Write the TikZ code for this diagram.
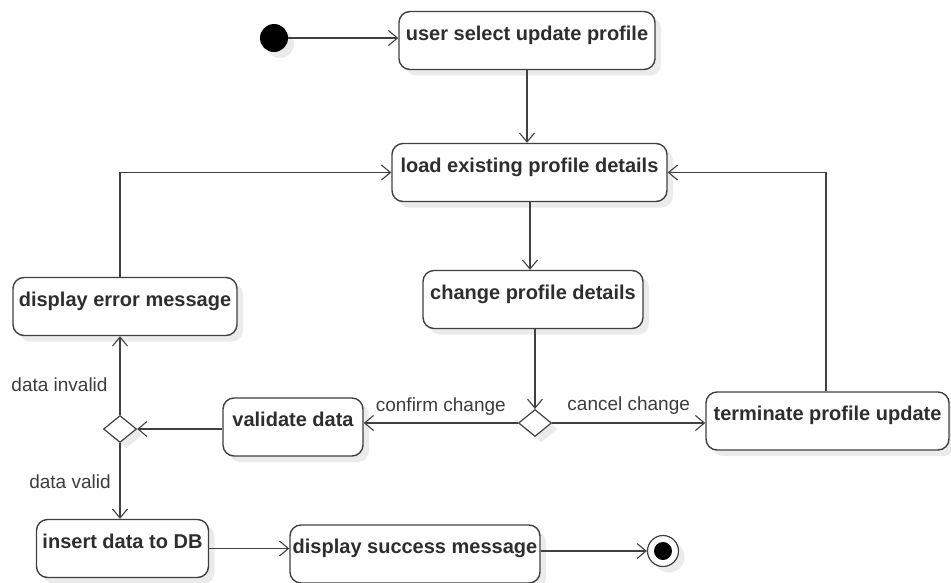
\documentclass[tikz,border=0pt]{standalone}
\usepackage{fontspec}
\setmainfont{Liberation Sans}
\usetikzlibrary{arrows.meta,shapes.geometric,shadows}
\definecolor{linec}{HTML}{404040}
\definecolor{textc}{HTML}{2E2E2E}
\definecolor{labc}{HTML}{3C3C3C}
\definecolor{shadowc}{HTML}{EBEBEB}
\tikzset{
  shade3/.style={drop shadow={shadow xshift=6pt,shadow yshift=-6pt,fill=shadowc,opacity=1}},
  act/.style={draw=linec, line width=1.4pt, rounded corners=11pt, fill=white,
    font=\bfseries\fontsize{20}{22}\selectfont, text=textc,
    text height=15pt, text depth=16pt, inner ysep=13.5pt, inner xsep=0pt, shade3},
  decision/.style={diamond, draw=linec, line width=1.2pt, fill=white, aspect=1.2,
    minimum width=33pt, minimum height=27pt, inner sep=0pt, shade3},
  initial/.style={circle, fill=black, minimum size=28pt, inner sep=0pt, shade3},
  final/.style={circle, draw=linec, line width=1.2pt, fill=white, minimum size=31pt, inner sep=0pt,
    shade3, path picture={\fill[black] (path picture bounding box.center) circle (9pt);}},
  flow/.style={draw=linec, line width=1.3pt, -{Straight Barb[length=9pt,width=15pt,line width=1.1pt]}},
  guard/.style={font=\fontsize{19}{22}\selectfont, text=labc, inner sep=0pt}
}
\begin{document}
\begin{tikzpicture}[x=1pt,y=-1pt]
\useasboundingbox (0,0) rectangle (951,582);

% start and end points
\node[initial] (start) at (274,38) {};
\node[final] (stop) at (663,551) {};

% activities
\node[act, minimum width=256pt] (select) at (527,40.5) {user select update profile};
\node[act, minimum width=275pt] (load) at (529.5,172.5) {load existing profile details};
\node[act, minimum width=220pt] (change) at (533,299.5) {change profile details};
\node[act, minimum width=140pt] (validate) at (293,427) {validate data};
\node[act, minimum width=243pt] (terminate) at (827.5,421) {terminate profile update};
\node[act, minimum width=224pt] (error) at (125,306.5) {display error message};
\node[act, minimum width=172pt] (insert) at (122.5,548.5) {insert data to DB};
\node[act, minimum width=250pt] (success) at (415,554) {display success message};

% decisions
\node[decision] (choice) at (535,423) {};
\node[decision] (check) at (120,429) {};

% transitions
\draw[flow] (start.east) -- (start -| select.west);
\draw[flow] (select.south -| 527,0) -- (load.north -| 527,0);
\draw[flow] (load.south -| 530,0) -- (change.north -| 530,0);
\draw[flow] (change.south -| choice) -- (choice.north);
\draw[flow] (choice.west) -- (choice -| validate.east)
  node[guard, pos=0.5, above=7pt] {confirm change};
\draw[flow] (choice.east) -- (choice -| terminate.west)
  node[guard, pos=0.5, above=8pt] {cancel change};
\draw[flow] (terminate.north -| 826,0) |- (load.east);
\draw[flow] (check -| validate.west) -- (check.east);
\draw[flow] (check.north) -- (check |- error.south);
\draw[flow] (error.north -| check) |- (load.west);
\draw[flow] (check.south) -- (check |- insert.north);
\draw[flow] (insert.east) -- (insert -| success.west);
\draw[flow] (stop -| success.east) -- (stop.west);

% guard labels on the left branch
\node[guard] (invalid) at (59.5,385) {data invalid};
\node[guard] (valid) at (70,482) {data valid};
\end{tikzpicture}
\end{document}
